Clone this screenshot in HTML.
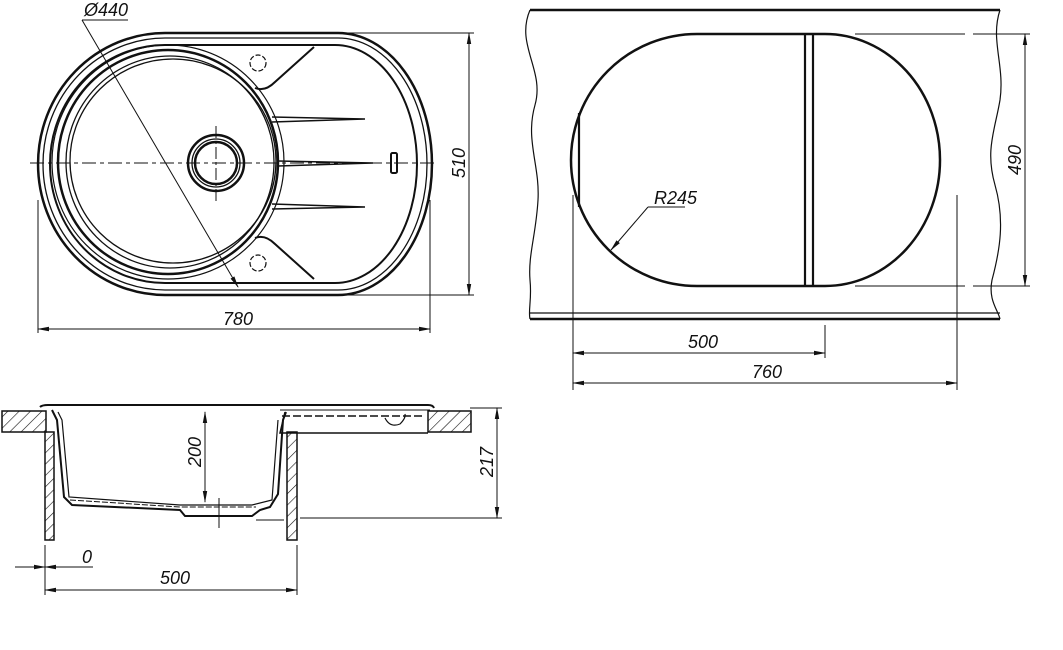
<!DOCTYPE html>
<html><head><meta charset="utf-8"><style>
html,body{margin:0;padding:0;background:#fff;}
svg{display:block;}
text{font-family:"Liberation Sans",sans-serif;font-style:italic;font-size:18px;fill:#111;}
</style></head><body>
<svg width="1063" height="650" viewBox="0 0 1063 650" xmlns="http://www.w3.org/2000/svg">
<defs>
<marker id="a" markerWidth="12" markerHeight="6" refX="11" refY="3" orient="auto-start-reverse" markerUnits="userSpaceOnUse"><path d="M0,0.8 L12,3 L0,5.2 Z" fill="#111"/></marker>
<pattern id="h" width="8" height="8" patternUnits="userSpaceOnUse" patternTransform="rotate(45)"><line x1="0" y1="0" x2="0" y2="8" stroke="#111" stroke-width="1.2"/></pattern>
</defs>
<g fill="none" stroke="#111">
<!-- TOP-LEFT PLAN VIEW -->
<path d="M165,33 H338 A94,131 0 0 1 338,295 H165 A127,131 0 0 1 165,33 Z" stroke-width="2.5"/>
<path d="M165,38 H338 A89,126 0 0 1 338,290 H165 A122,126 0 0 1 165,38 Z" stroke-width="1.3"/>
<path d="M165,45 H335 A82,119 0 0 1 335,283 H165 A115,119 0 0 1 165,45 Z" stroke-width="2"/>
<ellipse cx="168" cy="162" rx="110" ry="112" stroke-width="2.5"/>
<ellipse cx="170" cy="162" rx="104" ry="106" stroke-width="1.3"/>
<ellipse cx="173" cy="161" rx="103" ry="102" stroke-width="1.3"/>
<ellipse cx="168" cy="162" rx="116" ry="117" stroke-width="1.2"/>
<circle cx="216" cy="163" r="28" stroke-width="2.5"/>
<circle cx="216" cy="163" r="24" stroke-width="1.3"/>
<circle cx="216" cy="163" r="21" stroke-width="2.5"/>
<line x1="216" y1="126" x2="216" y2="202" stroke-width="1" stroke-dasharray="12,3,3,3"/>
<line x1="30" y1="163" x2="437" y2="163" stroke-width="1" stroke-dasharray="14,4,4,4"/>
<!-- ribs -->
<path d="M272,117 L365,119 L272,122" stroke-width="1.5"/>
<path d="M278,161 L373,163 L278,166" stroke-width="1.5"/>
<path d="M272,204 L365,207 L272,209" stroke-width="1.5"/>
<rect x="391" y="153" width="6" height="20" rx="1.5" stroke-width="2"/>
<!-- corner platforms -->
<circle cx="258" cy="63" r="8" stroke-width="1.2" stroke-dasharray="5,2"/>
<circle cx="258" cy="263" r="8" stroke-width="1.2" stroke-dasharray="5,2"/>
<path d="M255,88 Q265,92 275,82 L314,47" stroke-width="2"/>
<path d="M255,238 Q265,234 275,244 L314,279" stroke-width="2"/>
<!-- dims -->
<line x1="340" y1="33" x2="474" y2="33" stroke-width="1"/>
<line x1="340" y1="295" x2="474" y2="295" stroke-width="1"/>
<line x1="469" y1="33" x2="469" y2="295" stroke-width="1" marker-start="url(#a)" marker-end="url(#a)"/>
<line x1="38" y1="200" x2="38" y2="333" stroke-width="1"/>
<line x1="430" y1="200" x2="430" y2="333" stroke-width="1"/>
<line x1="38" y1="329" x2="430" y2="329" stroke-width="1" marker-start="url(#a)" marker-end="url(#a)"/>
<line x1="82" y1="20" x2="128" y2="20" stroke-width="1"/>
<line x1="82" y1="20" x2="238" y2="287" stroke-width="1" marker-end="url(#a)"/>

<!-- RIGHT CUTOUT VIEW -->
<line x1="530" y1="10" x2="1000" y2="10" stroke-width="2.5"/>
<line x1="530" y1="313" x2="1000" y2="313" stroke-width="1.3"/>
<line x1="530" y1="319" x2="1000" y2="319" stroke-width="2.5"/>
<path d="M530,10 C515,45 545,70 535,105 C525,140 540,165 538,200 C536,235 528,255 530,280 C532,300 528,310 530,319" stroke-width="1.2"/>
<path d="M1000,10 C990,40 1005,65 1000,100 C995,130 985,150 995,185 C1005,220 1000,250 992,280 C988,300 998,310 1000,319" stroke-width="1.2"/>
<path d="M697,34 H825 A115,126 0 0 1 825,286 H697 A126,126 0 0 1 697,34 Z" stroke-width="2.5"/>
<line x1="805" y1="35" x2="805" y2="285" stroke-width="2.2"/>
<line x1="813" y1="35" x2="813" y2="285" stroke-width="2.2"/>
<line x1="579" y1="113" x2="579" y2="207" stroke-width="2.2"/>
<line x1="648" y1="207" x2="685" y2="207" stroke-width="1"/>
<line x1="648" y1="207" x2="611" y2="250" stroke-width="1" marker-end="url(#a)"/>
<line x1="855" y1="34" x2="1030" y2="34" stroke-width="1" stroke-dasharray="110,8"/>
<line x1="855" y1="286" x2="1030" y2="286" stroke-width="1" stroke-dasharray="110,8"/>
<line x1="1025" y1="34" x2="1025" y2="286" stroke-width="1" marker-start="url(#a)" marker-end="url(#a)"/>
<line x1="573" y1="195" x2="573" y2="390" stroke-width="1"/>
<line x1="825" y1="325" x2="825" y2="358" stroke-width="1"/>
<line x1="957" y1="195" x2="957" y2="390" stroke-width="1"/>
<line x1="573" y1="353" x2="825" y2="353" stroke-width="1" marker-start="url(#a)" marker-end="url(#a)"/>
<line x1="573" y1="383" x2="957" y2="383" stroke-width="1" marker-start="url(#a)" marker-end="url(#a)"/>

<!-- BOTTOM SECTION VIEW -->
<rect x="2" y="411" width="44" height="21" fill="url(#h)" stroke-width="1.5"/>
<rect x="428" y="411" width="43" height="21" fill="url(#h)" stroke-width="1.5"/>
<rect x="45" y="432" width="9" height="108" fill="url(#h)" stroke-width="1.5"/>
<rect x="287" y="432" width="10" height="108" fill="url(#h)" stroke-width="1.5"/>
<path d="M40,407 Q42,405 48,405 H428 Q433,405 434,408" stroke-width="2"/>
<path d="M285,412 L280,433 H428" stroke-width="1.5"/>
<path d="M282,416 H425" stroke-width="1.5" stroke-dasharray="8,3"/>
<path d="M280,410 H430" stroke-width="1"/>
<path d="M52,410 L57,420 L64,497 L72,505 L180,510 L185,516 H252 L260,510 L270,507 L278,494 L283,420 L286,412" stroke-width="2"/>
<path d="M58,412 L62,420 L69,497 L180,505 L252,505 L272,500 L278,420" stroke-width="1.2"/>
<path d="M70,500 L180,507 H256" stroke-width="1" stroke-dasharray="6,2"/>
<path d="M385,418 Q390,428 400,424 Q406,418 405,414" stroke-width="1.2"/>
<line x1="219" y1="498" x2="219" y2="528" stroke-width="1"/>
<line x1="256" y1="520" x2="284" y2="520" stroke-width="1"/>
<line x1="205" y1="412" x2="205" y2="502" stroke-width="1" marker-start="url(#a)" marker-end="url(#a)"/>
<line x1="470" y1="408" x2="502" y2="408" stroke-width="1"/>
<line x1="300" y1="518" x2="502" y2="518" stroke-width="1"/>
<line x1="497" y1="408" x2="497" y2="518" stroke-width="1" marker-start="url(#a)" marker-end="url(#a)"/>
<line x1="45" y1="545" x2="45" y2="595" stroke-width="1"/>
<line x1="297" y1="545" x2="297" y2="595" stroke-width="1"/>
<line x1="15" y1="567" x2="45" y2="567" stroke-width="1" marker-end="url(#a)"/>
<line x1="93" y1="567" x2="45" y2="567" stroke-width="1" marker-end="url(#a)"/>
<line x1="45" y1="590" x2="297" y2="590" stroke-width="1" marker-start="url(#a)" marker-end="url(#a)"/>
</g>
<g stroke="none">
<text x="84" y="16">Ø440</text>
<text x="223" y="325">780</text>
<text transform="translate(465,163) rotate(-90)" text-anchor="middle">510</text>
<text x="654" y="204">R245</text>
<text x="688" y="348">500</text>
<text x="752" y="378">760</text>
<text transform="translate(1021,160) rotate(-90)" text-anchor="middle">490</text>
<text transform="translate(201,452) rotate(-90)" text-anchor="middle">200</text>
<text transform="translate(493,462) rotate(-90)" text-anchor="middle">217</text>
<text x="82" y="563">0</text>
<text x="160" y="584">500</text>
</g>
</svg>
</body></html>
